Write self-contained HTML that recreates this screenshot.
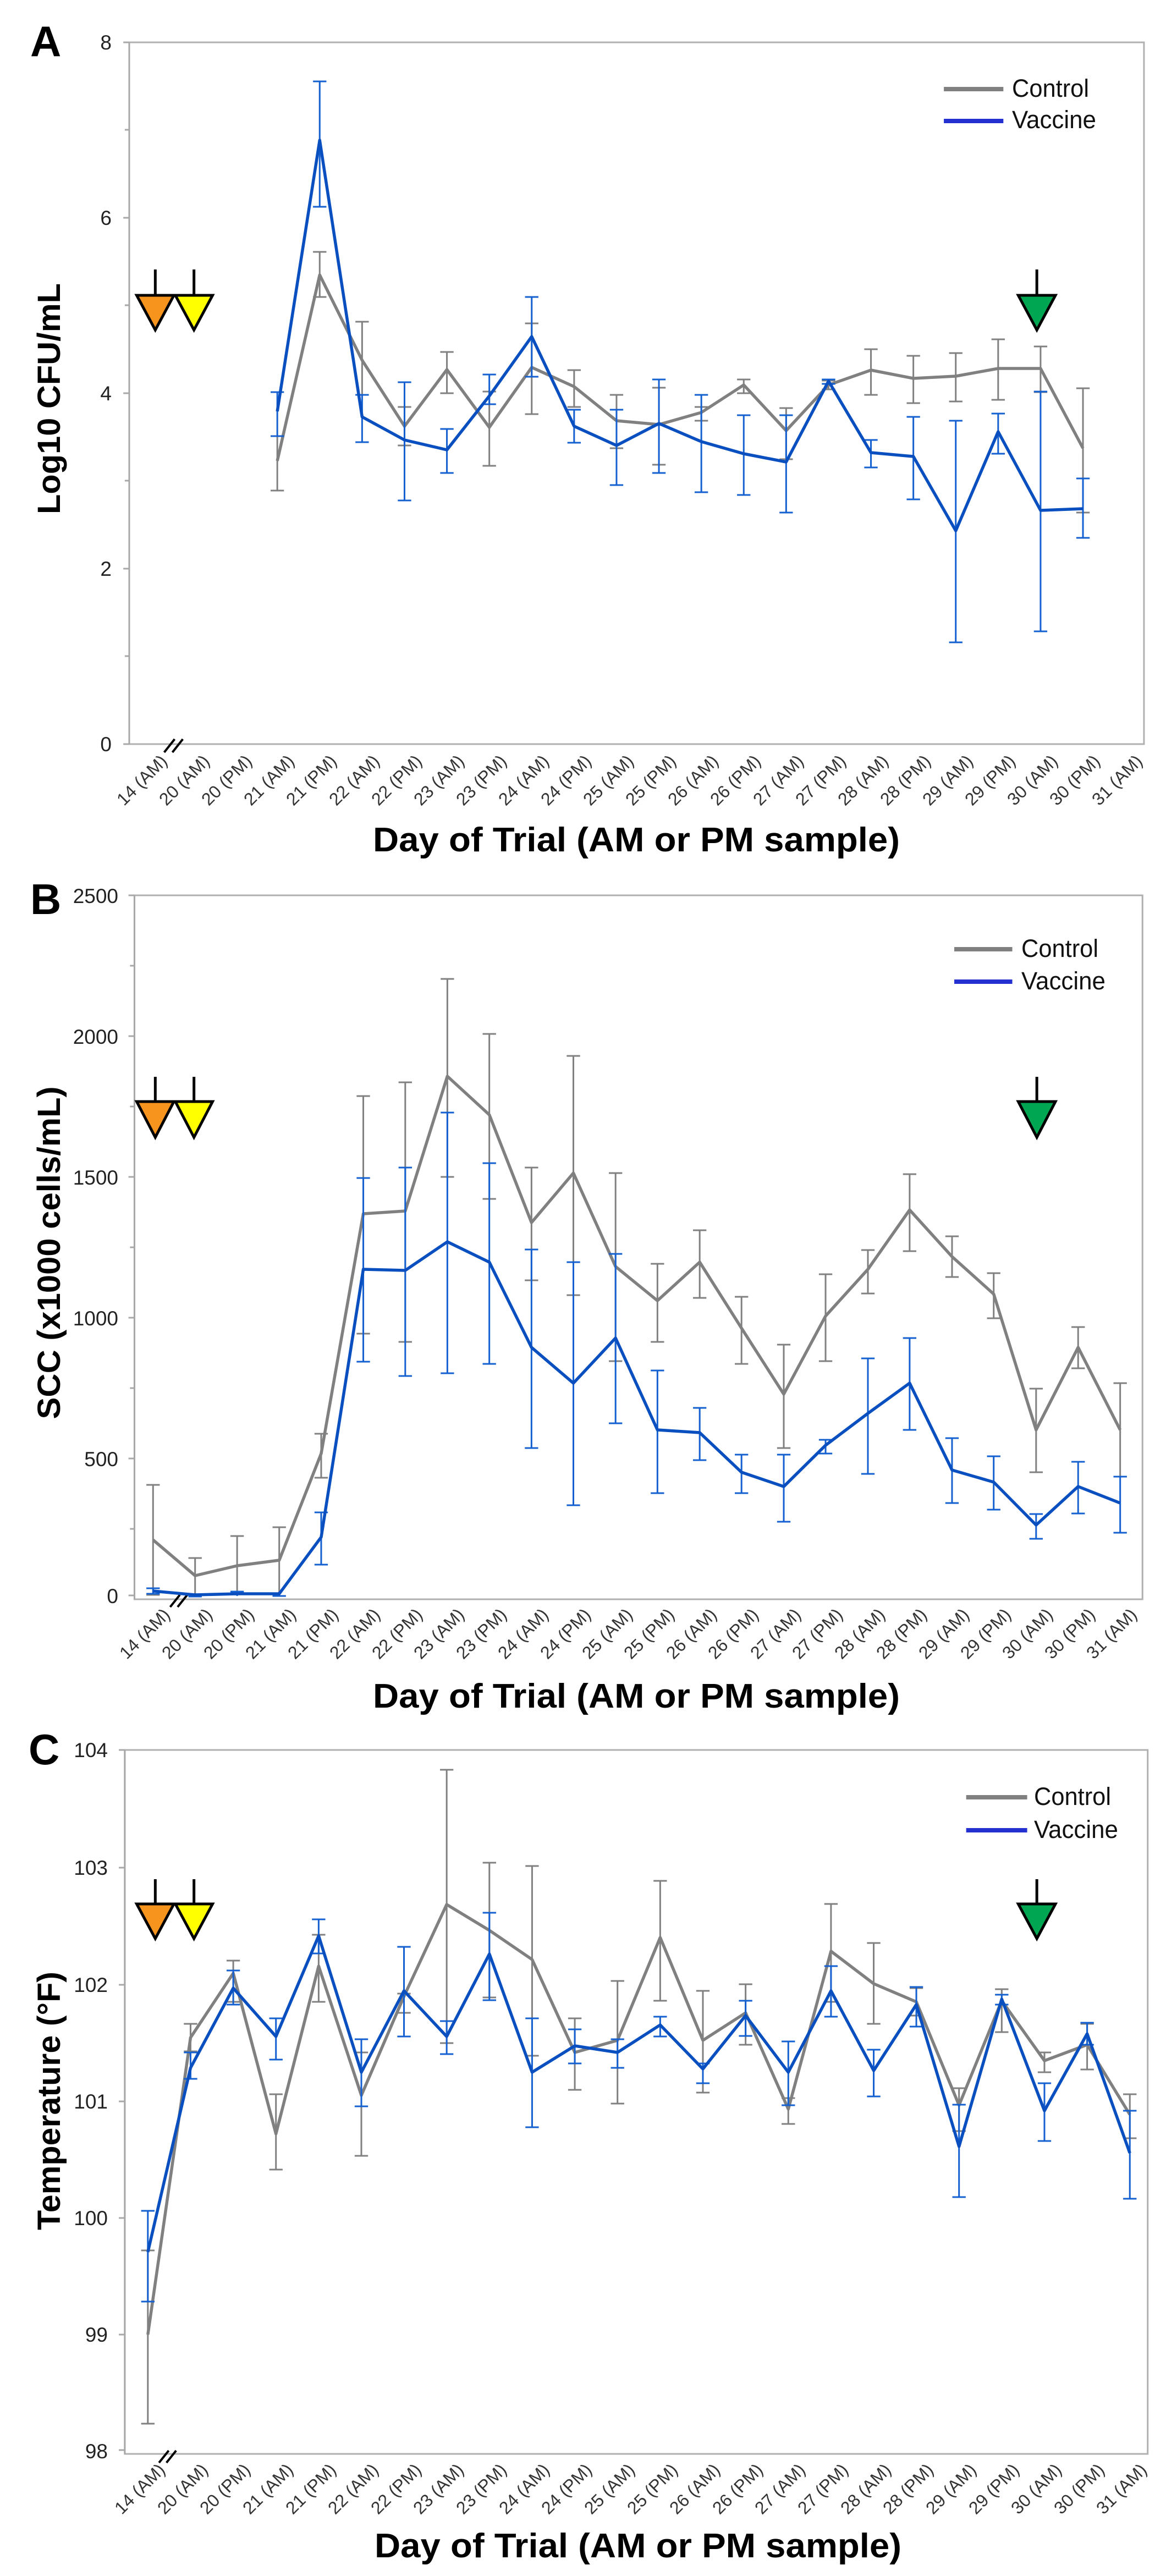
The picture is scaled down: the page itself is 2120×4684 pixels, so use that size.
<!DOCTYPE html>
<html><head><meta charset="utf-8"><style>
html,body{margin:0;padding:0;background:#fff}
svg{display:block}
text{font-family:"Liberation Sans",sans-serif}
.tl{font-size:37px;fill:#222;text-anchor:end}
.xl text{font-size:32px;fill:#333;text-anchor:end}
.tt{font-family:"Liberation Sans",sans-serif;font-weight:bold;fill:#000}
.lg{font-size:45px;fill:#111}
.s *{vector-effect:non-scaling-stroke}
.box{fill:none;stroke:#b0b0b0;stroke-width:3}
.ax{stroke:#a8a8a8;stroke-width:3;fill:none}
.g{fill:none;stroke:#808080;stroke-width:5.5;stroke-linejoin:round}
.b{fill:none;stroke:#0a4fbf;stroke-width:5.5;stroke-linejoin:round}
.ge{fill:none;stroke:#808080;stroke-width:3}
.be{fill:none;stroke:#1560d0;stroke-width:3}
</style></head><body>
<svg width="2120" height="4684" viewBox="0 0 2120 4684" xmlns="http://www.w3.org/2000/svg">
<rect width="2120" height="4684" fill="#fff"/>

<!-- ================= PANEL A ================= -->
<g>
<g class="s" transform="translate(1,0) scale(1.3526,1)">
<rect x="173" y="77" width="1364" height="1276" class="box"/>
<path class="ax" d="M173 77V1353M165 77h8M165 396h8M165 715h8M165 1034h8M165 1353h8M167 236h6M167 555h6M167 874h6M167 1193h6"/>
<path d="M220 1368l14-24M231 1368l14-24" stroke="#000" stroke-width="4"/>
<path class="ge" d="M372 793V892M363 793h18M363 892h18 M429 458V540M420 458h18M420 540h18 M486 585V718M477 585h18M477 718h18 M543 740V810M534 740h18M534 810h18 M600 640V715M591 640h18M591 715h18 M657 712V847M648 712h18M648 847h18 M714 588V753M705 588h18M705 753h18 M771 673V740M762 673h18M762 740h18 M828 718V815M819 718h18M819 815h18 M885 705V845M876 705h18M876 845h18 M942 740V765M933 740h18M933 765h18 M999 690V715M990 690h18M990 715h18 M1056 742V835M1047 742h18M1047 835h18 M1113 692V708M1104 692h18M1104 708h18 M1170 635V718M1161 635h18M1161 718h18 M1227 647V733M1218 647h18M1218 733h18 M1284 642V730M1275 642h18M1275 730h18 M1341 617V727M1332 617h18M1332 727h18 M1398 630V713M1389 630h18M1389 713h18 M1455 706V932M1446 706h18M1446 932h18"/>
<polyline class="g" points="372,838 429,500 486,655 543,775 600,672 657,777 714,668 771,703 828,765 885,772 942,750 999,700 1056,783 1113,700 1170,673 1227,688 1284,684 1341,670 1398,670 1455,815"/>
<path class="be" d="M372 713V793M363 713h18M363 793h18 M429 148V376M420 148h18M420 376h18 M486 718V804M477 718h18M477 804h18 M543 695V910M534 695h18M534 910h18 M600 780V860M591 780h18M591 860h18 M657 681V735M648 681h18M648 735h18 M714 540V685M705 540h18M705 685h18 M771 745V805M762 745h18M762 805h18 M828 745V882M819 745h18M819 882h18 M885 690V860M876 690h18M876 860h18 M942 718V895M933 718h18M933 895h18 M999 755V900M990 755h18M990 900h18 M1056 755V932M1047 755h18M1047 932h18 M1113 690V698M1104 690h18M1104 698h18 M1170 800V850M1161 800h18M1161 850h18 M1227 758V908M1218 758h18M1218 908h18 M1284 765V1168M1275 765h18M1275 1168h18 M1341 752V825M1332 752h18M1332 825h18 M1398 712V1148M1389 712h18M1389 1148h18 M1455 870V978M1446 870h18M1446 978h18"/>
<polyline class="b" points="372,748 429,255 486,758 543,800 600,818 657,720 714,612 771,775 828,810 885,770 942,803 999,825 1056,840 1113,693 1170,823 1227,830 1284,965 1341,785 1398,928 1455,925"/>
<path d="M1268 162h80" stroke="#808080" stroke-width="8"/><path d="M1268 220h80" stroke="#2530d0" stroke-width="8"/>
<g stroke="#000" stroke-width="5"><path d="M208 490v45M260 490v45M1393 490v45"/>
<polygon points="183,537 233,537 208,600" fill="#f7941d"/><polygon points="235,537 285,537 260,600" fill="#ffff00"/><polygon points="1368,537 1418,537 1393,600" fill="#00a651"/></g>
</g>
<text x="55" y="102" class="tt" font-size="78">A</text>
<text class="tl" x="203" y="90">8</text><text class="tl" x="203" y="409">6</text><text class="tl" x="203" y="728">4</text><text class="tl" x="203" y="1047">2</text><text class="tl" x="203" y="1366">0</text>
<text class="tt" font-size="58" transform="translate(109,725) rotate(-90)" text-anchor="middle" textLength="420" lengthAdjust="spacingAndGlyphs">Log10 CFU/mL</text>
<text class="tt" x="1157" y="1548" font-size="62" text-anchor="middle" textLength="958" lengthAdjust="spacingAndGlyphs">Day of Trial (AM or PM sample)</text>
<g class="xl">
<text transform="translate(306,1386) rotate(-45)">14 (AM)</text><text transform="translate(383,1386) rotate(-45)">20 (AM)</text><text transform="translate(460,1386) rotate(-45)">20 (PM)</text><text transform="translate(537,1386) rotate(-45)">21 (AM)</text><text transform="translate(614,1386) rotate(-45)">21 (PM)</text><text transform="translate(692,1386) rotate(-45)">22 (AM)</text><text transform="translate(769,1386) rotate(-45)">22 (PM)</text><text transform="translate(846,1386) rotate(-45)">23 (AM)</text><text transform="translate(923,1386) rotate(-45)">23 (PM)</text><text transform="translate(1000,1386) rotate(-45)">24 (AM)</text><text transform="translate(1077,1386) rotate(-45)">24 (PM)</text><text transform="translate(1154,1386) rotate(-45)">25 (AM)</text><text transform="translate(1231,1386) rotate(-45)">25 (PM)</text><text transform="translate(1308,1386) rotate(-45)">26 (AM)</text><text transform="translate(1385,1386) rotate(-45)">26 (PM)</text><text transform="translate(1463,1386) rotate(-45)">27 (AM)</text><text transform="translate(1540,1386) rotate(-45)">27 (PM)</text><text transform="translate(1617,1386) rotate(-45)">28 (AM)</text><text transform="translate(1694,1386) rotate(-45)">28 (PM)</text><text transform="translate(1771,1386) rotate(-45)">29 (AM)</text><text transform="translate(1848,1386) rotate(-45)">29 (PM)</text><text transform="translate(1925,1386) rotate(-45)">30 (AM)</text><text transform="translate(2002,1386) rotate(-45)">30 (PM)</text><text transform="translate(2079,1386) rotate(-45)">31 (AM)</text>
</g>
<text class="lg" x="1840" y="176" textLength="140" lengthAdjust="spacingAndGlyphs">Control</text><text class="lg" x="1840" y="233" textLength="153" lengthAdjust="spacingAndGlyphs">Vaccine</text>
</g>

<!-- ================= PANEL B ================= -->
<g transform="translate(0,1560)">
<g class="s" transform="translate(1,0) scale(1.3526,1)">
<rect x="180" y="68" width="1355" height="1280" class="box"/>
<path class="ax" d="M180 68V1348M172 68h8M172 324h8M172 580h8M172 836h8M172 1092h8M172 1341h8M174 196h6M174 452h6M174 708h6M174 964h6M174 1220h6"/>
<path d="M228 1362l13-22M238 1362l13-22" stroke="#000" stroke-width="4"/>
<path class="ge" d="M205 1140V1340M196 1140h18M196 1340h18 M261.5 1273V1340M252.5 1273h18 M318 1233V1340M309 1233h18 M374.6 1217V1337M365.6 1217h18 M431 1047V1127M422 1047h18M422 1127h18 M487.6 433V865M478.6 433h18M478.6 865h18 M544 408V880M535 408h18M535 880h18 M600.6 220V580M591.6 220h18M591.6 580h18 M657 320V620M648 320h18M648 620h18 M713.7 563V768M704.7 563h18M704.7 768h18 M770 360V795M761 360h18M761 795h18 M826.7 573V915M817.7 573h18M817.7 915h18 M883 738V880M874 738h18M874 880h18 M939.8 677V800M930.8 677h18M930.8 800h18 M996 798V920M987 798h18M987 920h18 M1052.8 885V1073M1043.8 885h18M1043.8 1073h18 M1109 757V915M1100 757h18M1100 915h18 M1165.9 713V792M1156.9 713h18M1156.9 792h18 M1222 575V715M1213 575h18M1213 715h18 M1279 688V762M1270 688h18M1270 762h18 M1335 755V837M1326 755h18M1326 837h18 M1392 965V1117M1383 965h18M1383 1117h18 M1448.5 853V928M1439.5 853h18M1439.5 928h18 M1505 955V1125M1496 955h18M1496 1125h18"/>
<polyline class="g" points="205,1240 261.5,1305 318,1287 374.6,1277 431,1083 487.6,647 544,642 600.6,397 657,467 713.7,663 770,573 826.7,743 883,805 939.8,735 996,855 1052.8,975 1109,833 1165.9,748 1222,640 1279,725 1335,793 1392,1040 1448.5,890 1505,1040"/>
<path class="be" d="M205 1328V1338M196 1328h18M196 1338h18 M261.5 1337V1343M252.5 1343h18 M318 1334V1342M309 1334h18 M374.6 1334V1342M365.6 1342h18 M431 1190V1285M422 1190h18M422 1285h18 M487.6 582V916M478.6 582h18M478.6 916h18 M544 563V942M535 563h18M535 942h18 M600.6 463V937M591.6 463h18M591.6 937h18 M657 555V920M648 555h18M648 920h18 M713.7 712V1073M704.7 712h18M704.7 1073h18 M770 735V1177M761 735h18M761 1177h18 M826.7 720V1028M817.7 720h18M817.7 1028h18 M883 932V1155M874 932h18M874 1155h18 M939.8 1000V1095M930.8 1000h18M930.8 1095h18 M996 1085V1155M987 1085h18M987 1155h18 M1052.8 1085V1207M1043.8 1085h18M1043.8 1207h18 M1109 1058V1083M1100 1058h18M1100 1083h18 M1165.9 910V1120M1156.9 910h18M1156.9 1120h18 M1222 873V1040M1213 873h18M1213 1040h18 M1279 1055V1173M1270 1055h18M1270 1173h18 M1335 1088V1185M1326 1088h18M1326 1185h18 M1392 1193V1238M1383 1193h18M1383 1238h18 M1448.5 1098V1192M1439.5 1098h18M1439.5 1192h18 M1505 1125V1227M1496 1125h18M1496 1227h18"/>
<polyline class="b" points="205,1333 261.5,1340 318,1338 374.6,1338 431,1235 487.6,748 544,750 600.6,698 657,735 713.7,890 770,955 826.7,873 883,1040 939.8,1045 996,1117 1052.8,1143 1109,1068 1165.9,1010 1222,955 1279,1113 1335,1135 1392,1213 1448.5,1143 1505,1173"/>
<path d="M1282 166h78" stroke="#808080" stroke-width="8"/><path d="M1282 225h78" stroke="#2530d0" stroke-width="8"/>
<g stroke="#000" stroke-width="5"><path d="M208 398v44M260 398v44M1393 398v44"/>
<polygon points="183,443 233,443 208,508" fill="#f7941d"/><polygon points="235,443 285,443 260,508" fill="#ffff00"/><polygon points="1368,443 1418,443 1393,508" fill="#00a651"/></g>
</g>
<text x="55" y="102" class="tt" font-size="78">B</text>
<text class="tl" x="215" y="82">2500</text><text class="tl" x="215" y="338">2000</text><text class="tl" x="215" y="594">1500</text><text class="tl" x="215" y="850">1000</text><text class="tl" x="215" y="1106">500</text><text class="tl" x="215" y="1355">0</text>
<text class="tt" font-size="58" transform="translate(109,718) rotate(-90)" text-anchor="middle" textLength="605" lengthAdjust="spacingAndGlyphs">SCC (x1000 cells/mL)</text>
<text class="tt" x="1157" y="1545" font-size="62" text-anchor="middle" textLength="958" lengthAdjust="spacingAndGlyphs">Day of Trial (AM or PM sample)</text>
<g class="xl">
<text transform="translate(311,1378) rotate(-45)">14 (AM)</text><text transform="translate(388,1378) rotate(-45)">20 (AM)</text><text transform="translate(464,1378) rotate(-45)">20 (PM)</text><text transform="translate(540,1378) rotate(-45)">21 (AM)</text><text transform="translate(617,1378) rotate(-45)">21 (PM)</text><text transform="translate(693,1378) rotate(-45)">22 (AM)</text><text transform="translate(770,1378) rotate(-45)">22 (PM)</text><text transform="translate(846,1378) rotate(-45)">23 (AM)</text><text transform="translate(923,1378) rotate(-45)">23 (PM)</text><text transform="translate(999,1378) rotate(-45)">24 (AM)</text><text transform="translate(1076,1378) rotate(-45)">24 (PM)</text><text transform="translate(1152,1378) rotate(-45)">25 (AM)</text><text transform="translate(1228,1378) rotate(-45)">25 (PM)</text><text transform="translate(1305,1378) rotate(-45)">26 (AM)</text><text transform="translate(1381,1378) rotate(-45)">26 (PM)</text><text transform="translate(1458,1378) rotate(-45)">27 (AM)</text><text transform="translate(1534,1378) rotate(-45)">27 (PM)</text><text transform="translate(1611,1378) rotate(-45)">28 (AM)</text><text transform="translate(1687,1378) rotate(-45)">28 (PM)</text><text transform="translate(1764,1378) rotate(-45)">29 (AM)</text><text transform="translate(1840,1378) rotate(-45)">29 (PM)</text><text transform="translate(1916,1378) rotate(-45)">30 (AM)</text><text transform="translate(1993,1378) rotate(-45)">30 (PM)</text><text transform="translate(2069,1378) rotate(-45)">31 (AM)</text>
</g>
<text class="lg" x="1857" y="180" textLength="140" lengthAdjust="spacingAndGlyphs">Control</text><text class="lg" x="1857" y="239" textLength="153" lengthAdjust="spacingAndGlyphs">Vaccine</text>
</g>

<!-- ================= PANEL C ================= -->
<g transform="translate(0,3120)">
<g class="s" transform="translate(1,0) scale(1.3526,1)">
<rect x="167" y="62" width="1375" height="1280" class="box"/>
<path class="ax" d="M167 62V1342M159 62h8M159 276h8M159 489h8M159 701h8M159 913h8M159 1125h8M159 1335h8"/>
<path d="M213 1358l13-22M223 1358l13-22" stroke="#000" stroke-width="4"/>
<path class="ge" d="M198 972V1287M189 972h18M189 1287h18 M255.4 560V610M246.4 560h18M246.4 610h18 M312.8 445V520M303.8 445h18M303.8 520h18 M370.2 688V825M361.2 688h18M361.2 825h18 M427.6 398V520M418.6 398h18M418.6 520h18 M485 612V800M476 612h18M476 800h18 M542.3 505V540M533.3 505h18M533.3 540h18 M599.7 98V595M590.7 98h18M590.7 595h18 M657.1 267V512M648.1 267h18M648.1 512h18 M714.5 273V618M705.5 273h18M705.5 618h18 M771.9 550V680M762.9 550h18M762.9 680h18 M829.3 482V705M820.3 482h18M820.3 705h18 M886.7 300V518M877.7 300h18M877.7 518h18 M944.1 500V685M935.1 500h18M935.1 685h18 M1001.5 488V598M992.5 488h18M992.5 598h18 M1058.9 695V742M1049.9 695h18M1049.9 742h18 M1116.3 342V520M1107.3 342h18M1107.3 520h18 M1173.7 413V560M1164.7 413h18M1164.7 560h18 M1231 495V545M1222 495h18M1222 545h18 M1288.4 677V755M1279.4 677h18M1279.4 755h18 M1345.8 497V575M1336.8 497h18M1336.8 575h18 M1403.2 612V648M1394.2 612h18M1394.2 648h18 M1460.6 560V643M1451.6 560h18M1451.6 643h18 M1518 688V768M1509 688h18M1509 768h18"/>
<polyline class="g" points="198,1125 255.4,585 312.8,468 370.2,760 427.6,455 485,690 542.3,510 599.7,343 657.1,390 714.5,443 771.9,612 829.3,590 886.7,403 944.1,590 1001.5,540 1058.9,715 1116.3,428 1173.7,487 1231,520 1288.4,708 1345.8,518 1403.2,627 1460.6,598 1518,725"/>
<path class="be" d="M198 900V1065M189 900h18M189 1065h18 M255.4 612V660M246.4 612h18M246.4 660h18 M312.8 463V525M303.8 463h18M303.8 525h18 M370.2 550V625M361.2 550h18M361.2 625h18 M427.6 370V432M418.6 370h18M418.6 432h18 M485 588V710M476 588h18M476 710h18 M542.3 420V583M533.3 420h18M533.3 583h18 M599.7 555V615M590.7 555h18M590.7 615h18 M657.1 358V517M648.1 358h18M648.1 517h18 M714.5 550V748M705.5 550h18M705.5 748h18 M771.9 570V632M762.9 570h18M762.9 632h18 M829.3 588V640M820.3 588h18M820.3 640h18 M886.7 547V583M877.7 547h18M877.7 583h18 M944.1 632V668M935.1 632h18M935.1 668h18 M1001.5 518V582M992.5 518h18M992.5 582h18 M1058.9 592V708M1049.9 592h18M1049.9 708h18 M1116.3 455V547M1107.3 455h18M1107.3 547h18 M1173.7 607V692M1164.7 607h18M1164.7 692h18 M1231 493V565M1222 493h18M1222 565h18 M1288.4 707V875M1279.4 707h18M1279.4 875h18 M1345.8 507V525M1336.8 507h18M1336.8 525h18 M1403.2 668V773M1394.2 668h18M1394.2 773h18 M1460.6 558V598M1451.6 558h18M1451.6 598h18 M1518 718V878M1509 718h18M1509 878h18"/>
<polyline class="b" points="198,975 255.4,640 312.8,495 370.2,583 427.6,400 485,648 542.3,500 599.7,583 657.1,433 714.5,648 771.9,600 829.3,612 886.7,562 944.1,642 1001.5,545 1058.9,648 1116.3,500 1173.7,645 1231,525 1288.4,783 1345.8,515 1403.2,718 1460.6,578 1518,795"/>
<path d="M1298 148h82" stroke="#808080" stroke-width="8"/><path d="M1298 208h82" stroke="#2530d0" stroke-width="8"/>
<g stroke="#000" stroke-width="5"><path d="M208 297v44M260 297v44M1393 297v44"/>
<polygon points="183,342 233,342 208,405" fill="#f7941d"/><polygon points="235,342 285,342 260,405" fill="#ffff00"/><polygon points="1368,342 1418,342 1393,405" fill="#00a651"/></g>
</g>
<text x="52" y="88" class="tt" font-size="78">C</text>
<text class="tl" x="196" y="75">104</text><text class="tl" x="196" y="289">103</text><text class="tl" x="196" y="502">102</text><text class="tl" x="196" y="714">101</text><text class="tl" x="196" y="926">100</text><text class="tl" x="196" y="1138">99</text><text class="tl" x="196" y="1350">98</text>
<text class="tt" font-size="58" transform="translate(109,700) rotate(-90)" text-anchor="middle" textLength="470" lengthAdjust="spacingAndGlyphs">Temperature (°F)</text>
<text class="tt" x="1160" y="1530" font-size="62" text-anchor="middle" textLength="958" lengthAdjust="spacingAndGlyphs">Day of Trial (AM or PM sample)</text>
<g class="xl">
<text transform="translate(302,1373) rotate(-45)">14 (AM)</text><text transform="translate(380,1373) rotate(-45)">20 (AM)</text><text transform="translate(457,1373) rotate(-45)">20 (PM)</text><text transform="translate(535,1373) rotate(-45)">21 (AM)</text><text transform="translate(613,1373) rotate(-45)">21 (PM)</text><text transform="translate(690,1373) rotate(-45)">22 (AM)</text><text transform="translate(768,1373) rotate(-45)">22 (PM)</text><text transform="translate(845,1373) rotate(-45)">23 (AM)</text><text transform="translate(923,1373) rotate(-45)">23 (PM)</text><text transform="translate(1001,1373) rotate(-45)">24 (AM)</text><text transform="translate(1078,1373) rotate(-45)">24 (PM)</text><text transform="translate(1156,1373) rotate(-45)">25 (AM)</text><text transform="translate(1234,1373) rotate(-45)">25 (PM)</text><text transform="translate(1311,1373) rotate(-45)">26 (AM)</text><text transform="translate(1389,1373) rotate(-45)">26 (PM)</text><text transform="translate(1466,1373) rotate(-45)">27 (AM)</text><text transform="translate(1544,1373) rotate(-45)">27 (PM)</text><text transform="translate(1622,1373) rotate(-45)">28 (AM)</text><text transform="translate(1699,1373) rotate(-45)">28 (PM)</text><text transform="translate(1777,1373) rotate(-45)">29 (AM)</text><text transform="translate(1855,1373) rotate(-45)">29 (PM)</text><text transform="translate(1932,1373) rotate(-45)">30 (AM)</text><text transform="translate(2010,1373) rotate(-45)">30 (PM)</text><text transform="translate(2087,1373) rotate(-45)">31 (AM)</text>
</g>
<text class="lg" x="1880" y="162" textLength="140" lengthAdjust="spacingAndGlyphs">Control</text><text class="lg" x="1880" y="222" textLength="153" lengthAdjust="spacingAndGlyphs">Vaccine</text>
</g>
</svg>
</body></html>
